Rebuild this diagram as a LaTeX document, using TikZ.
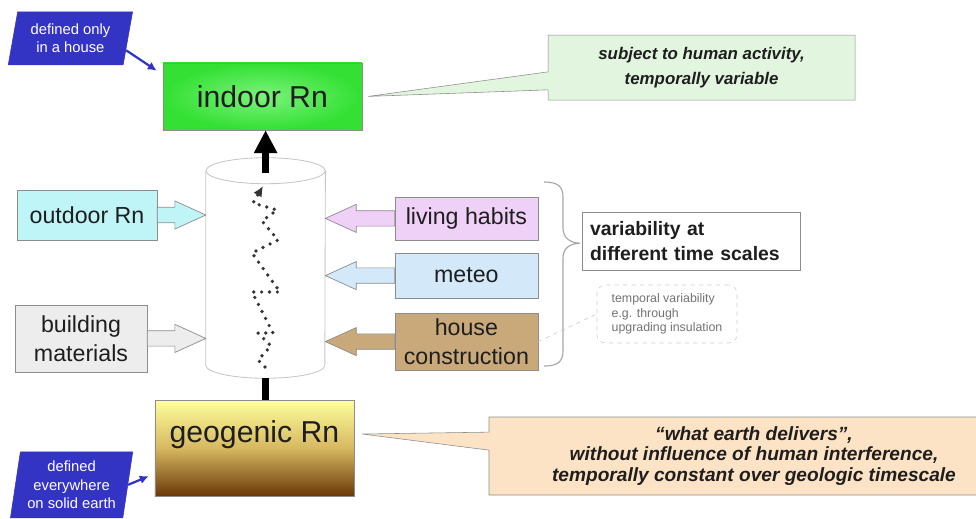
\documentclass[tikz,border=0pt]{standalone}
\usepackage{fontspec}
\setmainfont{Liberation Sans}
\usepackage{xcolor}
\usepackage{tikz}
\usetikzlibrary{arrows.meta,positioning,shapes.geometric,shapes.callouts,calc}
\definecolor{tagblue}{HTML}{3434C4}
\definecolor{indoorgreen}{HTML}{33E033}
\definecolor{indoorlight}{HTML}{7CF27C}
\definecolor{notegreen}{HTML}{E2F6DF}
\definecolor{outdoorcyan}{HTML}{C0F5F7}
\definecolor{buildgray}{HTML}{EDEDED}
\definecolor{habitlilac}{HTML}{EFD0F7}
\definecolor{meteoblue}{HTML}{D3E9F9}
\definecolor{housetan}{HTML}{C9A97A}
\definecolor{notepeach}{HTML}{FDE3C5}
\definecolor{geoyellow}{HTML}{FFFF9C}
\definecolor{geomid}{HTML}{D6B860}
\definecolor{geobrown}{HTML}{6A3808}
\definecolor{edgegray}{HTML}{8C8C8C}
\definecolor{textdark}{HTML}{1E1E1E}
\tikzset{
  tagbox/.style={trapezium,trapezium left angle=77,trapezium right angle=103,trapezium stretches=true,draw=tagblue,fill=tagblue,text=white,align=center,font=\fontsize{10.5}{13}\selectfont,inner sep=1pt},
  radonbox/.style={rectangle,draw=edgegray,minimum width=4.975cm,align=center,text=textdark,font=\fontsize{21.5}{24}\selectfont},
  factor/.style={rectangle,draw=edgegray,align=center,text=textdark,font=\fontsize{16.5}{20.5}\selectfont,inner sep=2pt},
  remark/.style={rectangle callout,draw=edgegray,align=center,text=textdark,font=\bfseries\itshape\fontsize{12}{17.5}\selectfont},
  feed/.style={draw=edgegray,line width=0.5pt,line join=miter},
  tagarrow/.style={-{Latex[length=2.2mm,width=2.2mm]},line width=1.6pt,draw=tagblue},
  flow/.style={line width=5pt,draw=black}
}
\newcommand{\feedarrow}[3]{%
  \draw[feed,fill=#3] let \p1=(#1), \p2=(#2), \n1={(\x2-\x1)/abs(\x2-\x1)} in
    (\x1,\y1+5.5pt) -- (\x2-\n1*22pt,\y1+5.5pt) -- (\x2-\n1*22pt,\y1+10pt) -- (\x2,\y1)
    -- (\x2-\n1*22pt,\y1-10pt) -- (\x2-\n1*22pt,\y1-5.5pt) -- (\x1,\y1-5.5pt) -- cycle;}

\begin{document}
\begin{tikzpicture}[
  pipeline/.style={draw=gray!45,line width=0.6pt},
  seepage/.style={draw=black!80,line width=2.6pt,line cap=round,dash pattern=on 0pt off 5.6pt,-{Latex[length=2.6mm,width=2.4mm]}},
  noteline/.style={draw=gray!45,dashed,line width=0.4pt}
]
  \useasboundingbox (0,0) rectangle (24.4,-12.95);

  \node[radonbox,inner color=indoorlight,outer color=indoorgreen,minimum height=1.675cm] (indoor) at (6.56,-2.41) {indoor Rn};
  \node[tagbox,minimum width=3.125cm,minimum height=1.325cm] (house) at (1.76,-0.96) {defined only\\in a house};
  \draw[tagarrow] (house.-12) -- ($(indoor.north west)+(-0.15,-0.2)$);

  \coordinate (indoortip) at ($(indoor.east)+(0.15,0)$);
  \node[remark,fill=notegreen,minimum width=7.675cm,minimum height=1.625cm,callout absolute pointer={(indoortip)},callout pointer width=0.45cm] (humannote) at (17.54,-1.69) {subject to human activity,\\temporally variable};

  \node[minimum width=2.975cm,minimum height=5.5cm,inner sep=0pt] (pipe) at (6.64,-6.7) {};
  \draw[pipeline,fill=white] ($(pipe.north west)+(0,-0.325)$) -- ($(pipe.south west)+(0,0.325)$) arc[start angle=180,end angle=360,x radius=1.4875cm,y radius=0.325cm] -- ($(pipe.north east)+(0,-0.325)$);
  \draw[pipeline] ($(pipe.north)+(0,-0.325)$) ellipse[x radius=1.4875cm,y radius=0.325cm];
  \draw[flow,-{Triangle[length=5.75mm,width=5.5mm]}] ($(pipe.north)+(0,-0.375)$) -- (pipe.north |- indoor.south);
  \draw[seepage] (6.625,-9.175) -- (6.45,-9.0) -- (6.775,-8.65) -- (6.45,-8.325) -- (6.825,-8.325) -- (6.3,-7.3) -- (7.0,-7.3) -- (6.3,-6.325) -- (6.95,-6.0) -- (6.55,-5.525) -- (6.925,-5.25) -- (6.325,-5.075) -- (6.575,-4.65);

  \node[radonbox,top color=geoyellow,bottom color=geobrown,middle color=geomid,minimum height=2.4cm,text height=0.85cm,text depth=1.15cm,inner ysep=0.2cm] (geo) at (6.36,-11.2) {geogenic Rn};
  \draw[flow] (pipe.south) -- (pipe.south |- geo.north);
  \node[tagbox,trapezium left angle=80,trapezium right angle=100,minimum width=3.075cm,minimum height=1.65cm] (earth) at (1.79,-12.12) {defined\\everywhere\\on solid earth};
  \draw[tagarrow] (earth.east) -- ($(geo.south west)+(-0.15,0.5)$);

  \node[factor,fill=outdoorcyan,minimum width=3.5cm,minimum height=1.25cm] (outdoor) at (2.175,-5.375) {outdoor Rn};
  \node[factor,fill=buildgray,minimum width=3.3cm,minimum height=1.675cm] (building) at (2.025,-8.46) {building\\materials};
  \node[factor,fill=habitlilac,minimum width=3.575cm,minimum height=1.075cm] (habits) at (11.66,-5.46) {living habits};
  \node[factor,fill=meteoblue,minimum width=3.575cm,minimum height=1.125cm] (meteo) at (11.66,-6.89) {meteo};
  \node[factor,fill=housetan,minimum width=3.575cm,minimum height=1.425cm] (construction) at (11.66,-8.54) {house\\construction};

  \feedarrow{outdoor.east}{pipe.west |- outdoor.east}{outdoorcyan}
  \feedarrow{building.east}{pipe.west |- building.east}{buildgray}
  \feedarrow{habits.west}{pipe.east |- habits.west}{habitlilac}
  \feedarrow{meteo.west}{pipe.east |- meteo.west}{meteoblue}
  \feedarrow{construction.west}{pipe.east |- construction.west}{housetan}

  \draw[draw=gray!70,line width=0.8pt] (13.6,-4.55) .. controls (14.0,-4.55) and (14.075,-4.7) .. (14.075,-4.95) -- (14.075,-5.7) .. controls (14.075,-5.95) and (14.25,-6.07) .. (14.5,-6.08) .. controls (14.25,-6.09) and (14.075,-6.2) .. (14.075,-6.45) -- (14.075,-8.75) .. controls (14.075,-9.0) and (14.0,-9.15) .. (13.6,-9.15);
  \node[rectangle,draw=edgegray,fill=white,minimum width=5.45cm,minimum height=1.45cm,inner xsep=0.2cm,text width=5.05cm,align=left,text=textdark,font=\bfseries\fontsize{13.8}{17.5}\selectfont] (variability) at (17.275,-6.025) {variability at\\different time scales};
  \node[draw=gray!40,dashed,rounded corners=6pt,fill=white,minimum width=3.5cm,minimum height=1.45cm,align=left,text=black!55,font=\fontsize{8.8}{10.5}\selectfont] (insulation) at (16.675,-7.85) {temporal variability\\e.g. through\\upgrading insulation};
  \draw[noteline] (construction.east) -- (insulation.west);

  \coordinate (geotip) at ($(geo.east)+(0.2,0.35)$);
  \node[remark,fill=notepeach,font=\bfseries\itshape\fontsize{13.6}{14.5}\selectfont,minimum width=13.25cm,minimum height=1.95cm,callout absolute pointer={(geotip)},callout pointer width=0.45cm] (earthnote) at (18.85,-11.4) {“what earth delivers”,\\without influence of human interference,\\temporally constant over geologic timescale};
\end{tikzpicture}
\end{document}
